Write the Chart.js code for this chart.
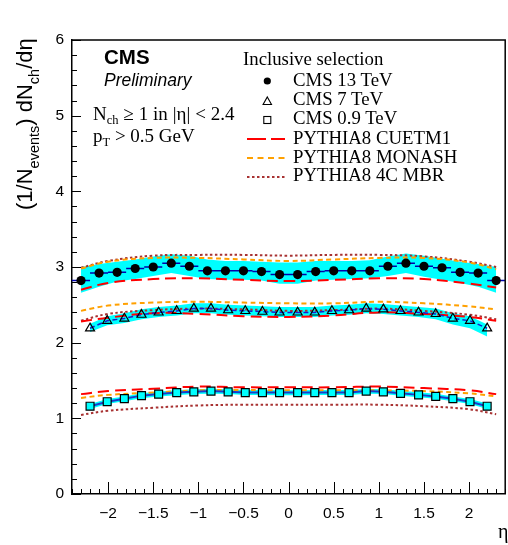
<!DOCTYPE html>
<html><head><meta charset="utf-8">
<script src="https://cdn.jsdelivr.net/npm/chart.js@4.4.1/dist/chart.umd.min.js"></script>
<style>
html,body{margin:0;padding:0;width:508px;height:545px;overflow:hidden;background:#fff}
#wrap{position:relative;width:512px;height:545px}
canvas{position:absolute;left:0;top:0}
svg{position:absolute;left:0;top:0;pointer-events:none}
</style></head><body>
<div id="wrap">
<canvas id="c" width="512" height="545"></canvas>
<svg width="512" height="545" font-family="Liberation Serif" fill="#000">
  <text x="104" y="64" font-family="Liberation Sans" font-weight="bold" font-size="20.5">CMS</text>
  <text x="104" y="86" font-family="Liberation Sans" font-style="italic" font-size="17.5">Preliminary</text>
  <text x="93" y="119.5" font-size="19">N<tspan font-size="12.5" dy="4">ch</tspan><tspan dy="-4" font-size="19" textLength="116" lengthAdjust="spacing"> ≥ 1 in |η| &lt; 2.4</tspan></text>
  <text x="93" y="141.5" font-size="19">p<tspan font-size="12.5" dy="4">T</tspan><tspan dy="-4" font-size="19"> &gt; 0.5 GeV</tspan></text>

  <text x="243" y="65" font-size="18.8">Inclusive selection</text>
  <circle cx="267.3" cy="81" r="3.6" fill="#000"/>
  <text x="293" y="85.5" font-size="18.8">CMS 13 TeV</text>
  <polygon points="267.3,97 271.5,104.5 263.1,104.5" fill="none" stroke="#000" stroke-width="1.1"/>
  <text x="293" y="105" font-size="18.8">CMS 7 TeV</text>
  <rect x="263.8" y="116.5" width="7" height="7" fill="none" stroke="#000" stroke-width="1.1"/>
  <text x="293" y="123.5" font-size="18.8">CMS 0.9 TeV</text>
  <line x1="247" y1="139" x2="285" y2="139" stroke="#ff0000" stroke-width="2" stroke-dasharray="19 5"/>
  <text x="293" y="143.5" font-size="18.8">PYTHIA8 CUETM1</text>
  <line x1="247" y1="158" x2="285" y2="158" stroke="#ffa000" stroke-width="2" stroke-dasharray="6 4.5"/>
  <text x="293" y="162.5" font-size="18.8">PYTHIA8 MONASH</text>
  <line x1="247" y1="177" x2="285" y2="177" stroke="#a83232" stroke-width="2" stroke-dasharray="2.5 2.5"/>
  <text x="293" y="181" font-size="18.8">PYTHIA8 4C MBR</text>

  <text transform="translate(32,210) rotate(-90)" font-family="Liberation Sans" font-size="22">(1/N<tspan font-size="14.5" dy="7">events</tspan><tspan dy="-7">) dN</tspan><tspan font-size="14.5" dy="7">ch</tspan><tspan dy="-7">/dη</tspan></text>
  <text x="498" y="538" font-size="20">η</text>
</svg>
</div>
<script>
// ---- data ----
const eta13 = [-2.3,-2.1,-1.9,-1.7,-1.5,-1.3,-1.1,-0.9,-0.7,-0.5,-0.3,-0.1,0.1,0.3,0.5,0.7,0.9,1.1,1.3,1.5,1.7,1.9,2.1,2.3];
const cms13 = [2.82,2.92,2.93,2.98,3.00,3.05,3.01,2.95,2.95,2.95,2.94,2.90,2.90,2.94,2.95,2.95,2.95,3.01,3.05,3.01,2.99,2.93,2.92,2.82];
const cms13Hi = [3.00,3.04,3.07,3.10,3.14,3.17,3.15,3.10,3.08,3.08,3.07,3.06,3.06,3.08,3.08,3.08,3.09,3.14,3.18,3.15,3.11,3.07,3.04,3.00];
const cms13Lo = [2.66,2.74,2.81,2.84,2.88,2.92,2.88,2.84,2.83,2.83,2.82,2.78,2.78,2.82,2.83,2.84,2.85,2.88,2.92,2.87,2.83,2.79,2.74,2.66];

const eta7 = [-2.2,-2.01,-1.82,-1.63,-1.44,-1.24,-1.05,-0.86,-0.67,-0.48,-0.29,-0.1,0.1,0.29,0.48,0.67,0.86,1.05,1.24,1.44,1.63,1.82,2.01,2.2];
const cms7 = [2.19,2.29,2.32,2.37,2.40,2.42,2.45,2.45,2.43,2.42,2.41,2.40,2.40,2.40,2.42,2.43,2.45,2.44,2.42,2.40,2.38,2.32,2.29,2.19];
const cms7Hi = [2.25,2.35,2.39,2.44,2.47,2.49,2.52,2.52,2.50,2.49,2.48,2.47,2.47,2.47,2.49,2.50,2.52,2.51,2.49,2.47,2.45,2.39,2.35,2.24];
const cms7Lo = [2.14,2.23,2.26,2.31,2.34,2.36,2.39,2.39,2.37,2.36,2.35,2.34,2.34,2.34,2.36,2.37,2.39,2.38,2.36,2.34,2.31,2.24,2.19,2.08];

const eta09 = [-2.2,-2.01,-1.82,-1.63,-1.44,-1.24,-1.05,-0.86,-0.67,-0.48,-0.29,-0.1,0.1,0.29,0.48,0.67,0.86,1.05,1.24,1.44,1.63,1.82,2.01,2.2];
const cms09 = [1.16,1.22,1.26,1.30,1.32,1.34,1.35,1.36,1.35,1.34,1.34,1.34,1.34,1.34,1.34,1.34,1.36,1.35,1.33,1.31,1.29,1.26,1.22,1.16];
const cms09Hi = [1.19,1.255,1.29,1.33,1.355,1.37,1.385,1.39,1.385,1.375,1.375,1.37,1.37,1.375,1.375,1.375,1.39,1.385,1.365,1.345,1.325,1.29,1.255,1.195];
const cms09Lo = [1.125,1.19,1.225,1.265,1.29,1.305,1.32,1.325,1.32,1.31,1.31,1.305,1.305,1.31,1.31,1.31,1.325,1.32,1.30,1.28,1.26,1.225,1.19,1.125];

const etaMC = [-2.3,-2.0,-1.5,-1.0,-0.5,0,0.5,1.0,1.5,2.0,2.3];
const cuetm1_13 = [2.70,2.79,2.84,2.85,2.83,2.815,2.83,2.85,2.84,2.78,2.73];
const monash_13 = [2.98,3.07,3.12,3.12,3.10,3.08,3.10,3.12,3.12,3.06,2.97];
const mbr_13    = [2.99,3.08,3.15,3.16,3.16,3.15,3.16,3.16,3.14,3.07,3.00];
const cuetm1_7  = [2.28,2.33,2.39,2.38,2.35,2.34,2.36,2.40,2.38,2.34,2.29];
const monash_7  = [2.42,2.49,2.53,2.54,2.53,2.52,2.52,2.54,2.52,2.48,2.44];
const mbr_7     = [2.29,2.38,2.43,2.45,2.44,2.42,2.43,2.45,2.42,2.37,2.31];
const cuetm1_09 = [1.32,1.36,1.39,1.42,1.41,1.41,1.41,1.42,1.40,1.37,1.32];
const monash_09 = [1.27,1.31,1.34,1.37,1.375,1.37,1.37,1.37,1.36,1.33,1.29];
const mbr_09    = [1.045,1.10,1.14,1.17,1.18,1.18,1.18,1.18,1.16,1.12,1.055];

const binHalf13 = 0.1;

// ---- build ----
const pts = (xs, ys) => xs.map((x, i) => ({x, y: ys[i]}));
const hbars = (xs, ys, h) => xs.flatMap((x, i) => [{x: x - h, y: ys[i]}, {x: x + h, y: ys[i]}, {x: x + h, y: null}]);

const CYAN = '#00ffff', RED = '#ff0000', ORANGE = '#ffa000', BROWN = '#a83232';
const band = (xs, hi, lo) => [
  {data: pts(xs, hi), borderWidth: 0, borderColor: 'rgba(0,0,0,0)', pointRadius: 0, fill: false, tension: 0, order: 10},
  {data: pts(xs, lo), borderWidth: 0, borderColor: 'rgba(0,0,0,0)', pointRadius: 0, fill: '-1', backgroundColor: CYAN, tension: 0, order: 10}
];
const mc = (ys, color, dash) => ({data: pts(etaMC, ys), borderColor: color, borderWidth: 2, borderDash: dash, pointRadius: 0, fill: false, tension: 0.4, order: 5});
const RD = [11, 6], OD = [5, 3.5], BD = [2.5, 2.5];

const datasets = [
  ...band(eta13, cms13Hi, cms13Lo),
  ...band(eta7, cms7Hi, cms7Lo),
  ...band(eta09, cms09Hi, cms09Lo),
  mc(cuetm1_13, RED, RD), mc(monash_13, ORANGE, OD), mc(mbr_13, BROWN, BD),
  mc(cuetm1_7, RED, RD), mc(monash_7, ORANGE, OD), mc(mbr_7, BROWN, BD),
  mc(cuetm1_09, RED, RD), mc(monash_09, ORANGE, OD), mc(mbr_09, BROWN, BD),
  {data: hbars(eta13, cms13, binHalf13), borderColor: '#0000aa', borderWidth: 1.5, pointRadius: 0, spanGaps: false, fill: false, tension: 0, order: 3},
  {data: pts(eta7, cms7), borderColor: '#1a1acc', borderWidth: 1.5, borderDash: [5, 3], pointRadius: 0, fill: false, tension: 0, order: 3},
  {data: pts(eta09, cms09), borderColor: '#1a3ccc', borderWidth: 2, pointRadius: 0, fill: false, tension: 0, order: 3},
  {data: pts(eta13, cms13), showLine: false, pointStyle: 'circle', pointRadius: 4.6, pointBackgroundColor: '#000', pointBorderColor: '#000', pointBorderWidth: 0, order: 1},
  {data: pts(eta7, cms7), showLine: false, pointStyle: 'triangle', pointRadius: 5.2, pointBackgroundColor: 'rgba(0,0,0,0)', pointBorderColor: '#000', pointBorderWidth: 1.2, order: 1},
  {data: pts(eta09, cms09), showLine: false, pointStyle: 'rect', pointRadius: 5.6, pointBackgroundColor: CYAN, pointBorderColor: '#000', pointBorderWidth: 1.2, order: 1}
];

const frameTicks = {
  id: 'frameTicks',
  afterDatasetsDraw(chart) {
    const {ctx, chartArea: a, scales: {x, y}} = chart;
    ctx.save();
    ctx.strokeStyle = '#000';
    ctx.lineWidth = 1;
    ctx.beginPath();
    for (let i = -24; i <= 24; i++) {
      const px = Math.round(x.getPixelForValue(i / 10)) + 0.5;
      const L = i % 5 === 0 ? 12 : 5;
      ctx.moveTo(px, a.bottom); ctx.lineTo(px, a.bottom - L);
    }
    for (let i = 0; i <= 30; i++) {
      const py = Math.round(y.getPixelForValue(i / 5)) + 0.5;
      const L = i % 5 === 0 ? 9 : 5;
      ctx.moveTo(a.left, py); ctx.lineTo(a.left + L, py);
    }
    ctx.stroke();
    ctx.lineWidth = 1.5;
    ctx.beginPath();
    ctx.moveTo(a.left, a.top); ctx.lineTo(a.right, a.top); ctx.lineTo(a.right, a.bottom);
    ctx.stroke();
    ctx.restore();
  }
};

const tickFont = {family: 'Liberation Sans', size: 15.5};
new Chart(document.getElementById('c'), {
  type: 'line',
  data: {datasets},
  options: {
    responsive: false,
    animation: false,
    devicePixelRatio: 1,
    layout: {padding: {left: 0, top: 40, right: 0, bottom: 0}},
    plugins: {legend: {display: false}, tooltip: {enabled: false}},
    scales: {
      x: {
        type: 'linear', min: -2.4, max: 2.4,
        grid: {display: false, drawTicks: false},
        border: {display: true, color: '#000', width: 1.5},
        ticks: {stepSize: 0.5, includeBounds: false, color: '#000', font: tickFont, padding: 10, maxRotation: 0, autoSkip: false,
          callback: v => (v < 0 ? '\u2212' : '') + Math.abs(v)},
        afterFit: s => { s.height = 51; }
      },
      y: {
        type: 'linear', min: 0, max: 6,
        grid: {display: false, drawTicks: false},
        border: {display: true, color: '#000', width: 1.5},
        ticks: {stepSize: 1, color: '#000', font: tickFont, padding: 8},
        afterFit: s => { s.width = 72; }
      }
    }
  },
  plugins: [frameTicks]
});
</script>
</body></html>
